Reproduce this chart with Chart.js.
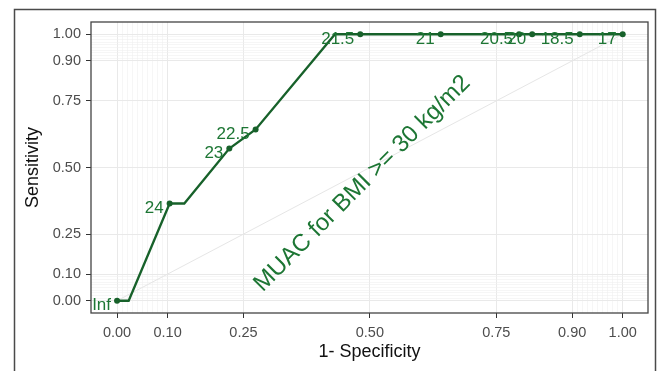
<!DOCTYPE html>
<html>
<head>
<meta charset="utf-8">
<script src="https://cdn.jsdelivr.net/npm/chart.js@4/dist/chart.umd.min.js"></script>
<style>
  html, body { margin: 0; padding: 0; background: #ffffff; }
  #wrap { width: 661px; height: 371px; position: relative; }
</style>
</head>
<body>
<div id="wrap"><canvas id="c" width="661" height="371"></canvas></div>
<script>
// ROC path (1 - specificity, sensitivity)
const fprPath = [0, 0.023, 0.104, 0.133, 0.222, 0.274, 0.431, 0.481, 0.640, 0.795, 0.821, 0.915, 1.0];
const tprPath = [0, 0, 0.365, 0.365, 0.571, 0.643, 1, 1, 1, 1, 1, 1, 1];
// labelled cut-offs (MUAC, cm)
const cutLabels = ['Inf', '24', '23', '22.5', '21.5', '21', '20.5', '20', '18.5', '17'];
const cutFpr = [0, 0.104, 0.222, 0.274, 0.481, 0.640, 0.795, 0.821, 0.915, 1.0];
const cutTpr = [0, 0.365, 0.571, 0.643, 1, 1, 1, 1, 1, 1];
// axis breaks
const majorBreaks = [0, 0.1, 0.25, 0.5, 0.75, 0.9, 1];
const minorBreaks = [0,0.01,0.02,0.03,0.04,0.05,0.06,0.07,0.08,0.09,0.1,0.9,0.91,0.92,0.93,0.94,0.95,0.96,0.97,0.98,0.99,1];
const annotationText = 'MUAC for BMI >= 30 kg/m2';
const xTitle = '1- Specificity';
const yTitle = 'Sensitivity';

const LINE = '#17612a';
const TEXTG = '#1d7634';

const allBreaks = Array.from(new Set(majorBreaks.concat(minorBreaks).map(v => Math.round(v * 100) / 100))).sort((a, b) => a - b);
const isMajor = v => majorBreaks.some(m => Math.abs(m - v) < 1e-9);

function gridOpts() {
  return {
    color: ctx => (ctx.tick && isMajor(ctx.tick.value)) ? '#e9e9e9' : '#f0f0f0',
    lineWidth: ctx => (ctx.tick && isMajor(ctx.tick.value)) ? 1 : 0.6,
    tickColor: ctx => (ctx.tick && isMajor(ctx.tick.value)) ? '#333333' : 'rgba(0,0,0,0)',
    tickLength: 5,
    tickWidth: 1,
    drawTicks: true
  };
}

const tickCb = function (value) { return isMajor(value) ? Number(value).toFixed(2) : ''; };

const framePlugin = {
  id: 'frame',
  beforeDraw(chart) {
    const ctx = chart.ctx;
    ctx.save();
    ctx.fillStyle = '#ffffff';
    ctx.fillRect(0, 0, chart.width, chart.height);
    ctx.strokeStyle = '#4a4a4a';
    ctx.lineWidth = 1.5;
    ctx.strokeRect(14.5, 9.5, 641, 380);
    ctx.restore();
  },
  afterDatasetsDraw(chart) {
    const ctx = chart.ctx;
    const xs = chart.scales.x, ys = chart.scales.y;
    // cut-off labels
    ctx.save();
    ctx.font = '17px "Liberation Sans", Arial, sans-serif';
    ctx.fillStyle = TEXTG;
    ctx.textAlign = 'right';
    ctx.textBaseline = 'middle';
    for (let i = 0; i < cutLabels.length; i++) {
      const px = xs.getPixelForValue(cutFpr[i]);
      const py = ys.getPixelForValue(cutTpr[i]);
      ctx.fillText(cutLabels[i], px - 6, py + 5);
    }
    // annotation
    const ax = xs.getPixelForValue(0.485);
    const ay = ys.getPixelForValue(0.44);
    ctx.translate(ax, ay);
    ctx.rotate(-Math.PI / 4);
    ctx.textAlign = 'center';
    ctx.font = '24px "Liberation Sans", Arial, sans-serif';
    ctx.fillText(annotationText, 0, 0);
    ctx.restore();
    // panel border
    const a = chart.chartArea;
    ctx.save();
    ctx.strokeStyle = '#444444';
    ctx.lineWidth = 1.3;
    ctx.strokeRect(a.left, a.top, a.right - a.left, a.bottom - a.top);
    ctx.restore();
  }
};

new Chart(document.getElementById('c'), {
  type: 'line',
  data: {
    datasets: [
      {
        data: [{x: 0, y: 0}, {x: 1, y: 1}],
        borderColor: '#e6e6e6',
        borderWidth: 1,
        pointRadius: 0,
        order: 3
      },
      {
        data: fprPath.map((f, i) => ({x: f, y: tprPath[i]})),
        borderColor: LINE,
        borderWidth: 2.3,
        pointRadius: 0,
        tension: 0,
        order: 2
      },
      {
        data: cutFpr.map((f, i) => ({x: f, y: cutTpr[i]})),
        showLine: false,
        pointRadius: 3,
        pointBackgroundColor: LINE,
        pointBorderColor: LINE,
        pointBorderWidth: 0,
        order: 1
      }
    ]
  },
  options: {
    responsive: false,
    animation: false,
    events: [],
    layout: { padding: { top: 22, right: 13, left: 0, bottom: 0 } },
    plugins: { legend: { display: false }, tooltip: { enabled: false } },
    scales: {
      x: {
        type: 'linear',
        min: -0.0515,
        max: 1.05,
        afterBuildTicks: axis => { axis.ticks = allBreaks.map(v => ({value: v})); },
        afterFit: axis => { axis.height = 58; },
        ticks: {
          autoSkip: false, maxRotation: 0, minRotation: 0, padding: 6,
          color: '#4d4d4d',
          font: { family: '"Liberation Sans", Arial, sans-serif', size: 14.5 },
          callback: tickCb
        },
        grid: gridOpts(),
        border: { display: false },
        title: {
          display: true, text: xTitle, color: '#111111',
          font: { family: '"Liberation Sans", Arial, sans-serif', size: 18 },
          padding: { top: 0, bottom: 8 }
        }
      },
      y: {
        type: 'linear',
        min: -0.046,
        max: 1.046,
        afterBuildTicks: axis => { axis.ticks = allBreaks.map(v => ({value: v})); },
        afterFit: axis => { axis.width = 91; },
        ticks: {
          autoSkip: false, padding: 5,
          color: '#4d4d4d',
          font: { family: '"Liberation Sans", Arial, sans-serif', size: 14.5 },
          callback: tickCb
        },
        grid: gridOpts(),
        border: { display: false },
        title: {
          display: true, text: yTitle, color: '#111111',
          font: { family: '"Liberation Sans", Arial, sans-serif', size: 18 },
          padding: { top: 22, bottom: 0 }
        }
      }
    }
  },
  plugins: [framePlugin]
});
</script>
</body>
</html>
